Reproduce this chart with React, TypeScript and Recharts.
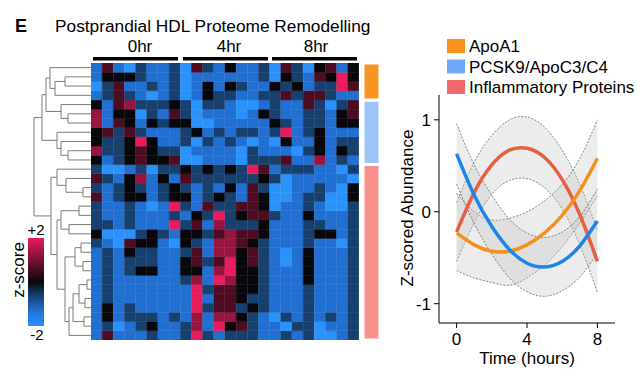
import React from 'react';
import { BarChart, Bar, Cell, XAxis, YAxis, ComposedChart, Line, Area, ReferenceLine } from 'recharts';

// heatmap: 24 samples (8 per time point) x 30 proteins, z-score codes a..g
const timeGroups = ['0hr', '4hr', '8hr'];
const samples = Array.from({ length: 24 }, (_, i) => `${timeGroups[Math.floor(i / 8)]}-${(i % 8) + 1}`);
const zCode: Record<string, number> = { a: -2, b: -1.3, c: -0.6, d: 0, e: 0.6, f: 1.3, g: 2 };
const heatRows = [
  'bebacbbcaecbdbbcaecadebd',
  'bdddcbbcabbbbbbcadcbedgd',
  'acebbcbcabdbdcbbdcdbccge',
  'bcecbabcabdccbbcceceecbb',
  'dbefcccdcaccbaabcbbecace',
  'fbddacbecabbbabdcbbccbde',
  'fbedbdcddaabbbbbdcbccbdd',
  'dececbbbcdbcbccbcgbcdbbb',
  'dccdgdbbcacbcbabadbbdbcc',
  'fccdedccabbbbacbbbacdbdc',
  'dbcdeddeaabbbacccebbfbcb',
  'caabcaccdcdcdcgebcccbbac',
  'ecbdfbdbeccccccdcabbbbba',
  'cbcdcbcdcbcbdbecaabbcbad',
  'ebcddbcddbcdcbedaabccaad',
  'cbbcbabgcbecceedabbcbaac',
  'cbbcbbbcbdcgcdeecbbdbbbc',
  'ccbcbbbgcebfcccdbbbccbbc',
  'daaacdcbddcefeedbbbcddbc',
  'cbaeddbadcbffedcbbbcbbac',
  'bcbdccbbcebffdecbabdbbbc',
  'bcbcccbbdecegdecbabdbbbc',
  'bcbcddbbddbfgddcbbbdbbbc',
  'bcbbbbbbcfbgfddcbbbdbbbc',
  'bcbbbbbbbgceeddcbbbcbbbc',
  'bcbbbbbbbgbeedccbbbcbbbc',
  'bdbcbbbbbgceecdcbbbcbbbc',
  'bdbcccbcbfbffdcbacbcbcbc',
  'bcabcdbbcfbgdecbbaccabbc',
  'bebbbcbbcgcbcccbbcbcaabc',
];

const clusterNames = ['ApoA1', 'PCSK9/ApoC3/C4', 'Inflammatory Proteins'];
const clusterSizes = [4, 7, 19];
const clusterColors = ['#F7931E', '#9DC3F7', '#F9918A'];
const legendColors = ['#F7931E', '#6FA8F5', '#F26B6B'];

// dendrogram: [left, right, merge height]; leaves are row indexes
type Node = number | [Node, Node, number];
const tree: Node = [
  [[[0, [[1, 2, 26], 3, 36], 41], [4, [5, 6, 23], 30], 45], [7, [8, [9, 10, 23], 30], 34], 49],
  [
    [11, [12, [13, 14, 8], 25], 34],
    [
      [[15, 16, 12], [17, 18, 22], 30],
      [[[19, 20, 10], [21, 22, 8], 16], [[[[23, 24, 4], [25, 26, 6], 12], [27, 28, 7], 18], 29, 22], 26],
      34,
    ],
    40,
  ],
  57,
];

// smoothed cluster trajectories
const hours = [0, 1, 2, 3, 4, 5, 6, 7, 8];
const apoA1 = [-0.23, -0.36, -0.43, -0.43, -0.36, -0.23, -0.04, 0.23, 0.58];
const apoLow = [-0.64, -0.72, -0.77, -0.8, -0.72, -0.58, -0.38, -0.12, 0.17];
const apoHigh = [0.2, 0.0, -0.09, -0.07, 0.0, 0.12, 0.3, 0.58, 1.0];
const pcsk9 = [0.63, 0.18, -0.16, -0.41, -0.56, -0.6, -0.54, -0.37, -0.1];
const pcskLow = [0.3, -0.13, -0.46, -0.72, -0.87, -0.92, -0.86, -0.71, -0.45];
const pcskHigh = [0.96, 0.51, 0.18, -0.08, -0.23, -0.28, -0.22, -0.05, 0.25];
const inflam = [-0.22, 0.21, 0.51, 0.67, 0.69, 0.59, 0.35, -0.03, -0.54];
const inflLow = [-0.54, -0.12, 0.19, 0.34, 0.36, 0.26, 0.03, -0.36, -0.88];
const inflHigh = [0.1, 0.54, 0.83, 1.0, 1.03, 0.92, 0.67, 0.3, -0.2];

const zStops: [number, string][] = [
  [-2, '#2A92FA'], [-1.3, '#226FD2'], [-0.6, '#17406F'], [0, '#08080C'],
  [0.6, '#4E0C22'], [1.3, '#9A1440'], [2, '#E81C5C'],
];

const hex = (s: string) => [1, 3, 5].map((i) => parseInt(s.slice(i, i + 2), 16));
function zColor(z: number) {
  for (let i = 0; i < zStops.length - 1; i++) {
    const [z0, c0] = zStops[i];
    const [z1, c1] = zStops[i + 1];
    if (z <= z1) {
      const t = Math.max(0, (z - z0) / (z1 - z0));
      const a = hex(c0), b = hex(c1);
      return `rgb(${a.map((v, k) => Math.round(v + (b[k] - v) * t)).join(',')})`;
    }
  }
  return zStops[zStops.length - 1][1];
}

const font = '"Liberation Sans", Arial, sans-serif';
const nRows = heatRows.length;

const heatData = samples.map((s) => {
  const o: Record<string, any> = { name: s };
  heatRows.forEach((_, r) => (o['r' + r] = 1));
  return o;
});

const sideData = [{ name: 'cluster', ...Object.fromEntries(clusterSizes.map((n, i) => ['c' + i, n])) }];

type Seg = [{ x: number; y: number }, { x: number; y: number }];
const segs: Seg[] = [];
function layout(n: Node): { y: number; h: number } {
  if (typeof n === 'number') return { y: n + 0.5, h: 0 };
  const a = layout(n[0]);
  const b = layout(n[1]);
  const h = n[2];
  segs.push([{ x: a.h, y: a.y }, { x: h, y: a.y }]);
  segs.push([{ x: b.h, y: b.y }, { x: h, y: b.y }]);
  segs.push([{ x: h, y: a.y }, { x: h, y: b.y }]);
  return { y: (a.y + b.y) / 2, h };
}
layout(tree);

const lineData = hours.map((t, i) => ({
  t,
  apo: apoA1[i],
  apoBand: [apoLow[i], apoHigh[i]],
  pcsk: pcsk9[i],
  pcskBand: [pcskLow[i], pcskHigh[i]],
  infl: inflam[i],
  inflBand: [inflLow[i], inflHigh[i]],
}));

const abs = (left: number, top: number): React.CSSProperties => ({ position: 'absolute', left, top });

export default function App() {
  const groupX = [93, 183, 272];
  const labelX = [140, 229, 316];
  return (
    <div style={{ position: 'absolute', left: 0, top: 0, width: 640, height: 377, background: '#fff', fontFamily: font }}>
      {/* dendrogram */}
      <div style={abs(30, 63)}>
        <ComposedChart width={61} height={277} data={[{ h: 0, y: 0 }]} margin={{ top: 0, right: 0, bottom: 0, left: 0 }}>
          <XAxis type="number" dataKey="h" domain={[0, 61]} reversed hide allowDataOverflow />
          <YAxis type="number" dataKey="y" domain={[0, nRows]} reversed hide allowDataOverflow />
          {segs.map((s, i) => (
            <ReferenceLine key={i} segment={s} stroke="#7d7d7d" strokeWidth={1} ifOverflow="visible" />
          ))}
        </ComposedChart>
      </div>

      {/* heatmap */}
      <div style={abs(91, 63)}>
        <BarChart width={268} height={277} data={heatData} barCategoryGap={0} barGap={0} margin={{ top: 0, right: 0, bottom: 0, left: 0 }}>
          <XAxis dataKey="name" hide />
          <YAxis type="number" domain={[0, nRows]} hide />
          {heatRows.map((_, k) => {
            const r = nRows - 1 - k;
            return (
              <Bar key={r} dataKey={'r' + r} stackId="h" isAnimationActive={false}>
                {samples.map((s, j) => {
                  const c = zColor(zCode[heatRows[r][j]]);
                  return <Cell key={s} fill={c} stroke={c} strokeWidth={0.5} />;
                })}
              </Bar>
            );
          })}
        </BarChart>
      </div>

      {/* cluster side bar */}
      <div style={abs(363, 63)}>
        <BarChart width={17} height={277} data={sideData} barCategoryGap={0} margin={{ top: 0, right: 0, bottom: 0, left: 0 }}>
          <XAxis dataKey="name" hide />
          <YAxis type="number" domain={[0, nRows]} hide />
          {[2, 1, 0].map((i) => (
            <Bar key={i} dataKey={'c' + i} stackId="s" fill={clusterColors[i]} stroke="#fff" strokeWidth={3} isAnimationActive={false} />
          ))}
        </BarChart>
      </div>

      {/* texts and legend of heatmap */}
      <svg width={640} height={377} style={{ position: 'absolute', left: 0, top: 0, pointerEvents: 'none' }} fontFamily={font}>
        <defs>
          <linearGradient id="zgrad" x1="0" y1="1" x2="0" y2="0">
            {zStops.map(([z, c]) => (
              <stop key={z} offset={`${((z + 2) / 4) * 100}%`} stopColor={c} />
            ))}
          </linearGradient>
        </defs>
        <text x={15} y={32} fontSize={18} fontWeight="bold">E</text>
        <text x={55} y={32} fontSize={17.3}>Postprandial HDL Proteome Remodelling</text>
        {timeGroups.map((g, i) => (
          <g key={g}>
            <text x={labelX[i]} y={52} fontSize={17} textAnchor="middle">{g}</text>
            <rect x={groupX[i]} y={57} width={85} height={3.5} fill="#000" />
          </g>
        ))}
        <rect x={28} y={238} width={16} height={88} fill="url(#zgrad)" />
        <text x={36} y={235} fontSize={15} textAnchor="middle">+2</text>
        <text x={37} y={340} fontSize={15} textAnchor="middle">-2</text>
        <text transform="translate(24,270) rotate(-90)" fontSize={17} textAnchor="middle">z-score</text>

        {clusterNames.map((n, i) => (
          <g key={n}>
            <rect x={447} y={39 + i * 20.5} width={18} height={14} fill={legendColors[i]} />
            <text x={469} y={52 + i * 20.5} fontSize={17}>{n}</text>
          </g>
        ))}
        <text transform="translate(413,208) rotate(-90)" fontSize={17} textAnchor="middle">Z-scored Abundance</text>
        <text x={527} y={364} fontSize={17} textAnchor="middle">Time (hours)</text>
      </svg>

      {/* trajectories */}
      <div style={abs(380, 80)}>
        <ComposedChart width={260} height={297} data={lineData} margin={{ top: 15, right: 25, bottom: 24, left: 19 }}>
          <XAxis
            type="number" dataKey="t" domain={[-1, 9]} ticks={[0, 4, 8]} allowDataOverflow
            height={30} tickSize={5} tickMargin={5}
            axisLine={{ stroke: '#000' }} tickLine={{ stroke: '#000' }}
            tick={{ fontSize: 17, fill: '#000', fontFamily: font }}
          />
          <YAxis
            type="number" domain={[-1.21, 1.27]} ticks={[-1, 0, 1]} allowDataOverflow
            width={40} tickSize={5} tickMargin={3}
            axisLine={{ stroke: '#000' }} tickLine={{ stroke: '#000' }}
            tick={{ fontSize: 17, fill: '#000', fontFamily: font }}
          />
          {['inflBand', 'apoBand', 'pcskBand'].map((k) => (
            <Area
              key={k} dataKey={k} type="natural" isAnimationActive={false}
              fill="#c4c4c4" fillOpacity={0.33} stroke="#3a3a3a" strokeWidth={0.6} strokeDasharray="2 1.5"
            />
          ))}
          <Line dataKey="infl" type="natural" stroke="#E3613F" strokeWidth={3.5} dot={false} isAnimationActive={false} />
          <Line dataKey="apo" type="natural" stroke="#F5901E" strokeWidth={3.5} dot={false} isAnimationActive={false} />
          <Line dataKey="pcsk" type="natural" stroke="#1E85E8" strokeWidth={3.5} dot={false} isAnimationActive={false} />
        </ComposedChart>
      </div>
    </div>
  );
}
